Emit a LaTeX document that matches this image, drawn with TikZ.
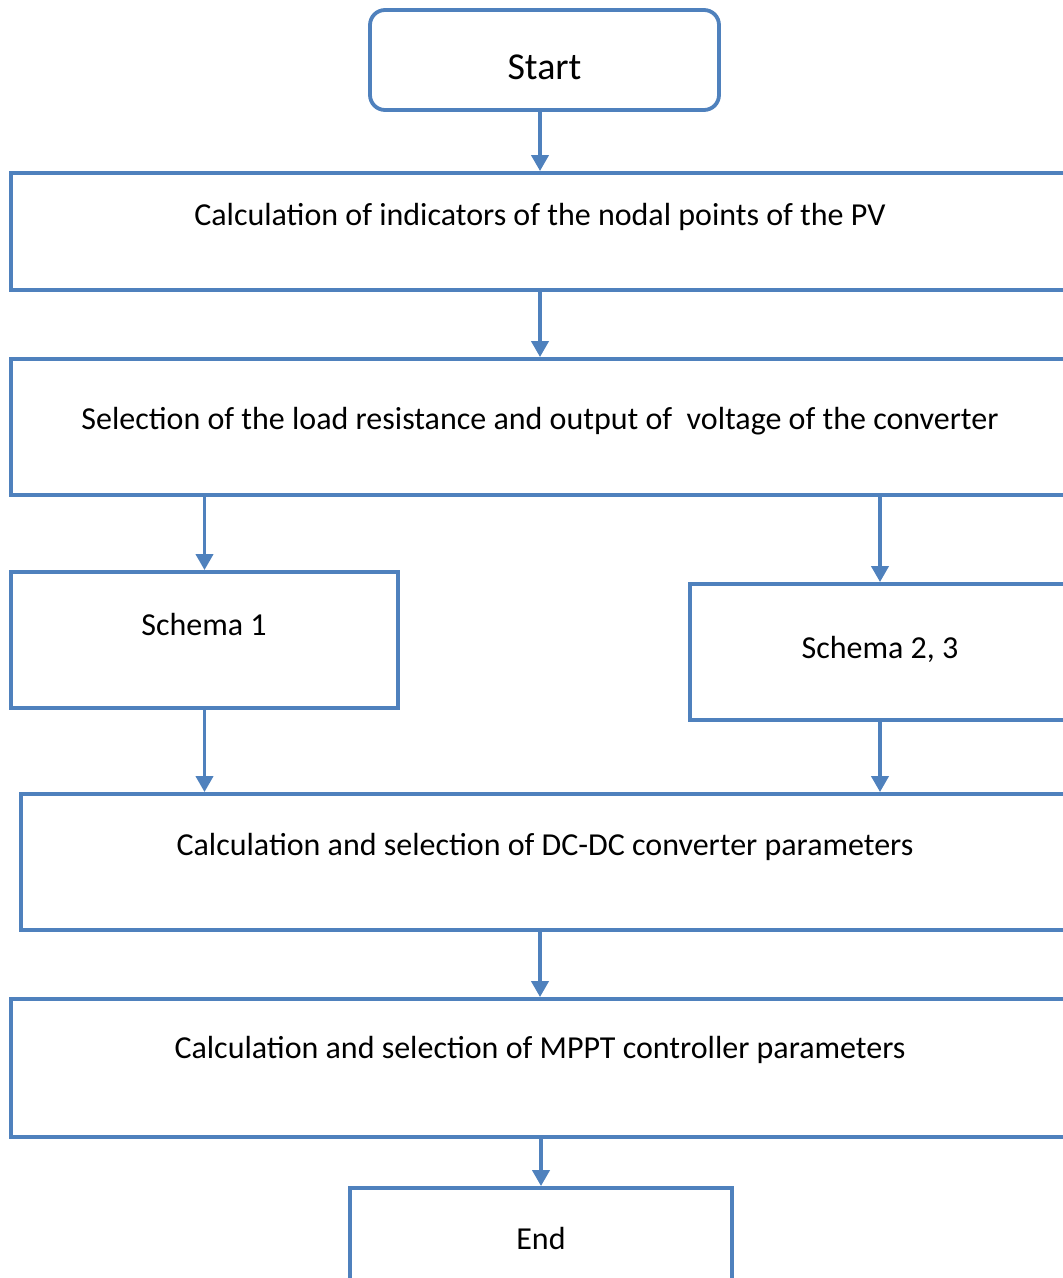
\documentclass[tikz,border=0pt]{standalone}
\usepackage{fontspec}
\setmainfont{Carlito}
\usepackage{xcolor}
\usetikzlibrary{arrows.meta, positioning}

\definecolor{flowblue}{HTML}{4F81BD}

\begin{document}
\begin{tikzpicture}[
    x=0.5pt, y=-0.5pt,
    box/.style={draw=flowblue, line width=1.9pt, fill=white, minimum height=68pt, inner sep=0pt},
    term/.style={box, rounded corners=7.5pt, minimum width=174.5pt, minimum height=50pt},
    txt/.style={font=\fontsize{16}{19}\selectfont, inner sep=0pt},
    arrow/.style={-{Triangle[length=8pt, width=8.5pt]}, draw=flowblue, line width=1.9pt}
]
\useasboundingbox (0,0) rectangle (1063,1278);
\clip (0,0) rectangle (1063,1278);

% --- Blocks ---
\node[term] (start) at (544.5, 60) {};
\node[txt, font=\fontsize{19}{23}\selectfont] (startlbl) at (544.5, 67) {Start};

\node[box, minimum width=529pt, minimum height=58.5pt] (pv) at (540, 231.5) {};
\node[txt] (pvlbl) at (540, 217) {Calculation of indicators of the nodal points of the PV};

\node[box, minimum width=529pt] (sel) at (540, 427) {};
\node[txt] (sellbl) at (540, 421) {Selection of the load resistance and output of \ voltage of the converter};

\node[box, minimum width=193.5pt] (sch1) at (204.5, 640) {};
\node[txt] (sch1lbl) at (204, 625) {Schema 1};

\node[box, minimum width=190pt] (sch23) at (880, 652) {};
\node[txt] (sch23lbl) at (880, 649) {Schema 2, 3};

\node[box, minimum width=524pt] (dcdc) at (545, 862) {};
\node[txt] (dcdclbl) at (545, 847) {Calculation and selection of DC-DC converter parameters};

\node[box, minimum width=529pt, minimum height=69pt] (mppt) at (540, 1068) {};
\node[txt] (mpptlbl) at (540, 1050) {Calculation and selection of MPPT controller parameters};

\node[box, minimum width=191pt] (fin) at (541, 1256) {};
\node[txt] (finlbl) at (541, 1238) {End};

% --- Connectors ---
\draw[arrow] (start.south -| pv.north) -- (pv.north);
\draw[arrow] (pv.south) -- (sel.north);
\draw[arrow] (sel.south -| sch1.north) -- (sch1.north);
\draw[arrow] (sel.south -| sch23.north) -- (sch23.north);
\draw[arrow] (sch1.south) -- (sch1.south |- dcdc.north);
\draw[arrow] (sch23.south) -- (sch23.south |- dcdc.north);
\draw[arrow] (dcdc.south -| mppt.north) -- (mppt.north);
\draw[arrow] (mppt.south -| fin.north) -- (fin.north);

\end{tikzpicture}
\end{document}
